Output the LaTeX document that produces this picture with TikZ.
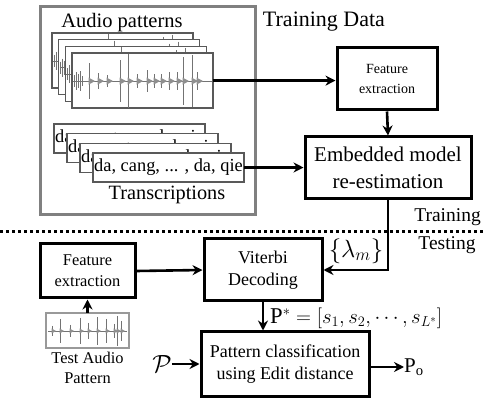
\documentclass[tikz,border=0pt]{standalone}
\usepackage{fontspec}
\setmainfont{Liberation Serif}
\usetikzlibrary{arrows.meta}
\definecolor{wavegray}{gray}{0.45}
\definecolor{framegray}{gray}{0.35}
\definecolor{boxgray}{gray}{0.5}
\newcommand\fsz[2]{\fontsize{#1}{#2}\selectfont}
\newcommand\bigwave{%
  \draw[wavec] (1,28) -- (140,28);
  \foreach \x/\h in {17/18,26/8,35/6,48/21,56/27,65/7,75/11,82/7,89/7,97/9,105/9,111/24,120/26,125/9}{
    \draw[wavec] (\x,28-\h) -- (\x,28+\h);
    \fill[wavef] (\x-0.5,24.5) -- (\x+6,28) -- (\x-0.5,31.5) -- cycle;
  }
  \foreach \x/\h in {2/6,4/9,6/7,8/10,10/5}{\draw[wavec] (\x,28-\h) -- (\x,28+\h);}
}
\newcommand\smallwave{%
  \draw[wavec] (2,18) -- (81,18);
  \foreach \x/\h in {6/5,14/12,24/6,34/13,42/8,51/14,60/12,68/7,71/15,75/10}{
    \draw[wavec] (\x,18-\h) -- (\x,18+\h);
    \fill[wavef] (\x-0.4,15.5) -- (\x+4,18) -- (\x-0.4,20.5) -- cycle;
  }
}
\tikzset{
  wavec/.style={draw=wavegray, line width=0.6pt},
  wavef/.style={fill=wavegray!80},
  blk/.style={draw=black, line width=3pt, align=center, inner sep=0pt, fill=white},
  arr/.style={line width=2.6pt, -{Stealth[length=10pt,width=10pt]}},
  frm/.style={draw=framegray, line width=1.3pt, fill=white, inner sep=0pt, outer sep=0pt, anchor=north west},
  tfrm/.style={frm, minimum width=151pt, minimum height=29pt, font=\fsz{18.4}{20}, inner sep=1pt},
  lbl/.style={inner sep=0pt},
}
\begin{document}
\begin{tikzpicture}[x=1pt,y=-1pt]
\useasboundingbox (0,0) rectangle (485,398);
% training data frame
\node[draw=boxgray, line width=3pt, minimum width=215pt, minimum height=208pt, anchor=north west, inner sep=0pt, outer sep=0pt] (train) at (40,7) {};
\node[lbl, font=\fsz{20.5}{22}] (aplbl) at (122,23) {Audio patterns};
\node[lbl, font=\fsz{22}{24}] (tdlbl) at (324,22) {Training Data};
% audio frames
\foreach \i in {0,...,3}{
  \node[frm, minimum width=141pt, minimum height=55pt] (af\i) at ({52+6.7*\i},{33+6.7*\i}) {};
  \begin{scope}[shift={(af\i.north west)}]
    \clip (0.6,0.6) rectangle (140.4,54.4);
    \bigwave
  \end{scope}
}
% transcriptions
\foreach \i in {0,...,3}{
  \node[tfrm] (tf\i) at ({54+13*\i},{124+9.67*\i}) {da, cang, ... , da, qie};
}
\node[lbl, font=\fsz{20.3}{22}] (trlbl) at (167,195) {Transcriptions};
% training boxes
\node[blk, minimum width=100pt, minimum height=62pt, font=\fsz{14}{20}] (fe1) at (387,79) {Feature\\extraction};
\node[blk, minimum width=166pt, minimum height=62pt, font=\fsz{21}{27}] (emb) at (388,168) {Embedded model\\re-estimation};
% separator
\coordinate (dl) at (0,232);
\coordinate (dr) at (485,232);
\draw[line width=3pt, dash pattern=on 3pt off 3pt] (dl) -- (dr);
\node[lbl, font=\fsz{19.5}{22}, anchor=east] (trn) at (481,217) {Training};
\node[lbl, font=\fsz{19.5}{22}] (tst) at (447,245) {Testing};
% testing boxes
\node[blk, minimum width=95pt, minimum height=54pt, font=\fsz{16.4}{21}] (fe2) at (87.5,271) {Feature\\extraction};
\node[blk, minimum width=118pt, minimum height=62pt, font=\fsz{18}{22}] (vit) at (263,270) {Viterbi\\Decoding};
\node[blk, minimum width=168pt, minimum height=64pt, font=\fsz{18}{22}] (pat) at (285,364) {Pattern classification\\using Edit distance};
% test waveform
\node[draw=boxgray!80, line width=1.3pt, fill=white, minimum width=83pt, minimum height=35pt, anchor=north west, inner sep=0pt, outer sep=0pt] (tw) at (46,313) {};
\begin{scope}[shift={(tw.north west)}]
  \clip (0.6,0.6) rectangle (82.4,34.4);
  \smallwave
\end{scope}
\node[lbl, font=\fsz{16.4}{20}, align=center] (twlbl) at (87.5,368) {Test Audio\\Pattern};
% labels
\node[lbl, font=\fsz{26}{28}] (lam) at (356,251) {$\{\lambda_m\}$};
\node[lbl, font=\fsz{22.6}{25}, anchor=west] (pstar) at (270,318) {$\mathrm{P}^* = [s_1, s_2, \cdots, s_{L^*}]$};
\node[lbl, font=\fsz{24}{26}] (calp) at (162,364) {$\mathcal{P}$};
\node[lbl, font=\fsz{21}{24}, anchor=west] (po) at (404,367) {$\mathrm{P_o}$};
% connectors
\draw[arr] (af3.east) -- (af3.east -| fe1.west);
\draw[arr] (fe1.south) -- (emb.north);
\draw[arr] (tf3.east) -- (tf3.east -| emb.west);
\draw[arr] (emb.south) |- (vit.east);
\draw[arr] (fe2.east) -- (vit.west);
\draw[arr] (tw.north) -- (fe2.south);
\draw[arr] (vit.south) -- (vit.south |- pat.north);
\draw[arr] (calp.east) -- (calp.east -| pat.west);
\draw[arr] (pat.east |- po.west) -- (po.west);
\end{tikzpicture}
\end{document}
